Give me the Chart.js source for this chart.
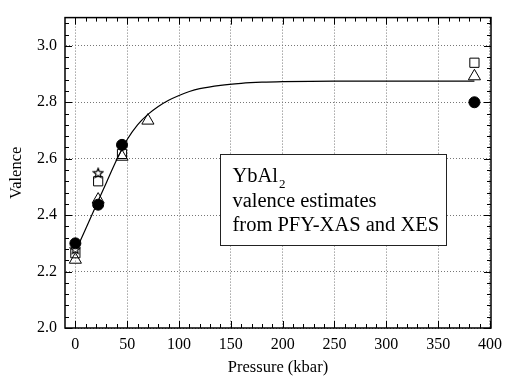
<!DOCTYPE html>
<html>
<head>
<meta charset="utf-8">
<script src="https://cdn.jsdelivr.net/npm/chart.js@4.4.1/dist/chart.umd.min.js"></script>
<style>
  html, body { margin: 0; padding: 0; background: #fff; }
  #wrap { width: 509px; height: 378px; }
</style>
</head>
<body>
<div id="wrap"><canvas id="chart" width="509" height="378"></canvas></div>
<script>
const xTicks = [0, 50, 100, 150, 200, 250, 300, 350, 400];
const yTicks = [2.0, 2.2, 2.4, 2.6, 2.8, 3.0];

// filled circles
const circleP = [0, 22, 45, 385];
const circleV = [2.30, 2.437, 2.649, 2.80];
// open triangles
const triP = [0, 22, 45, 70, 385];
const triV = [2.242, 2.455, 2.607, 2.735, 2.892];
// open squares
const squareP = [0, 22, 45, 385];
const squareV = [2.265, 2.52, 2.617, 2.94];
// open stars
const starP = [0, 22];
const starV = [2.28, 2.55];
// fitted curve
const fitP = [0, 10, 20, 30, 40, 50, 60, 70, 80, 90, 100, 110, 120, 140, 160, 180, 200, 250, 300, 385];
const fitV = [2.27, 2.352, 2.434, 2.516, 2.597, 2.668, 2.72, 2.757, 2.785, 2.807, 2.824, 2.838, 2.848, 2.86, 2.867, 2.871, 2.873, 2.875, 2.875, 2.875];

const serif = '"Liberation Serif", "Times New Roman", serif';

function pts(xs, ys) {
    return xs.map((x, i) => ({ x: x, y: ys[i] }));
}

function makeStar(size) {
    const c = document.createElement('canvas');
    c.width = c.height = size;
    const g = c.getContext('2d');
    const cx = size / 2, cy = size / 2 + 0.5, R = size / 2 - 1, r = R * 0.45;
    g.beginPath();
    for (let i = 0; i < 10; i++) {
        const a = -Math.PI / 2 + i * Math.PI / 5;
        const rad = i % 2 ? r : R;
        g.lineTo(cx + rad * Math.cos(a), cy + rad * Math.sin(a));
    }
    g.closePath();
    g.fillStyle = '#fff';
    g.fill();
    g.strokeStyle = '#000';
    g.lineWidth = 1.2;
    g.stroke();
    return c;
}

// frame with inward ticks on all four sides, plus the label box
const framePlugin = {
    id: 'frame',
    afterDatasetsDraw(chart) {
        const ctx = chart.ctx;
        const x = chart.scales.x, y = chart.scales.y;
        const bx1 = x.getPixelForValue(140), bx2 = x.getPixelForValue(358);
        const by1 = y.getPixelForValue(2.615), by2 = y.getPixelForValue(2.294);
        ctx.save();
        ctx.fillStyle = '#fff';
        ctx.fillRect(bx1, by1, bx2 - bx1, by2 - by1);
        ctx.strokeStyle = '#222';
        ctx.lineWidth = 1;
        ctx.strokeRect(Math.round(bx1) + 0.5, Math.round(by1) + 0.5, Math.round(bx2 - bx1), Math.round(by2 - by1));

        ctx.fillStyle = '#000';
        ctx.textBaseline = 'alphabetic';
        ctx.textAlign = 'left';
        const tx = bx1 + 12;
        ctx.font = '20.5px ' + serif;
        ctx.fillText('YbAl', tx, by1 + 28);
        const w = ctx.measureText('YbAl').width;
        ctx.font = '13px ' + serif;
        ctx.fillText('2', tx + w + 1, by1 + 34);
        ctx.font = '20.5px ' + serif;
        ctx.fillText('valence estimates', tx, by1 + 53);
        ctx.fillText('from PFY-XAS and XES', tx, by1 + 77);
        ctx.restore();
    },
    afterDraw(chart) {
        const ctx = chart.ctx;
        const a = chart.chartArea;
        const x = chart.scales.x, y = chart.scales.y;
        ctx.save();
        ctx.strokeStyle = '#000';
        ctx.lineWidth = 1;
        ctx.beginPath();
        for (let i = 0; i <= 40; i++) {
            const px = Math.round(x.getPixelForValue(i * 10)) + 0.5;
            const len = i % 5 === 0 ? 7 : 4;
            ctx.moveTo(px, a.bottom); ctx.lineTo(px, a.bottom - len);
            ctx.moveTo(px, a.top); ctx.lineTo(px, a.top + len);
        }
        for (let i = 0; i <= 27; i++) {
            const py = Math.round(y.getPixelForValue(2 + i * 0.04)) + 0.5;
            const len = i % 5 === 0 ? 7 : 4;
            ctx.moveTo(a.left, py); ctx.lineTo(a.left + len, py);
            ctx.moveTo(a.right, py); ctx.lineTo(a.right - len, py);
        }
        ctx.stroke();
        ctx.lineWidth = 1.5;
        ctx.strokeRect(a.left, a.top, a.right - a.left, a.bottom - a.top);
        ctx.restore();
    }
};

const ctx = document.getElementById('chart').getContext('2d');
new Chart(ctx, {
    type: 'scatter',
    data: {
        datasets: [
            {
                data: pts(circleP, circleV),
                pointStyle: 'circle', pointRadius: 5.5,
                backgroundColor: '#000', borderColor: '#000', borderWidth: 1
            },
            {
                data: pts(starP, starV),
                pointStyle: makeStar(12)
            },
            {
                data: pts(squareP, squareV),
                pointStyle: 'rect', pointRadius: 6.5,
                backgroundColor: 'rgba(0,0,0,0)', borderColor: '#000', borderWidth: 1
            },
            {
                data: pts(triP, triV),
                pointStyle: 'triangle', pointRadius: 7,
                backgroundColor: 'rgba(0,0,0,0)', borderColor: '#000', borderWidth: 1
            },
            {
                type: 'line',
                data: pts(fitP, fitV),
                showLine: true,
                borderColor: '#000', borderWidth: 1.2,
                pointRadius: 0,
                cubicInterpolationMode: 'monotone',
                fill: false
            }
        ]
    },
    options: {
        responsive: false,
        animation: false,
        layout: { padding: { top: 13, right: 12, left: 0, bottom: 0 } },
        plugins: {
            legend: { display: false },
            tooltip: { enabled: false }
        },
        scales: {
            x: {
                type: 'linear',
                min: -10, max: 401,
                afterBuildTicks: s => { s.ticks = xTicks.map(v => ({ value: v })); },
                afterFit: s => { s.height = 50; },
                grid: { color: '#777', lineWidth: 1, drawTicks: false },
                border: { display: true, color: 'rgba(0,0,0,0)', dash: [1, 2] },
                ticks: {
                    padding: 7, color: '#000', maxRotation: 0, autoSkip: false,
                    font: { family: serif, size: 16 },
                    callback: v => String(v)
                },
                title: {
                    display: true, text: 'Pressure (kbar)', color: '#000',
                    font: { family: serif, size: 16.5 },
                    padding: { top: 0, bottom: 0 }
                }
            },
            y: {
                type: 'linear',
                min: 2.0, max: 3.1,
                afterBuildTicks: s => { s.ticks = yTicks.map(v => ({ value: v })); },
                afterFit: s => { s.width = 65; },
                grid: { color: '#777', lineWidth: 1, drawTicks: false },
                border: { display: true, color: 'rgba(0,0,0,0)', dash: [1, 2] },
                ticks: {
                    padding: 8, color: '#000', autoSkip: false,
                    font: { family: serif, size: 16 },
                    callback: v => Number(v).toFixed(1)
                },
                title: {
                    display: true, text: 'Valence', color: '#000',
                    font: { family: serif, size: 16.5 },
                    padding: { top: 7, bottom: 0 }
                }
            }
        }
    },
    plugins: [framePlugin]
});
</script>
</body>
</html>
